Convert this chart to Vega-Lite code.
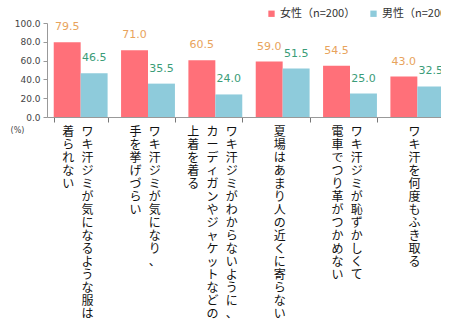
{
  "$schema": "https://vega.github.io/schema/vega-lite/v6.json",
  "width": 394,
  "height": 94,
  "autosize": {"type": "none"},
  "padding": {"left": 47, "top": 23, "right": 0, "bottom": 219},
  "background": "white",
  "config": {
    "view": {"stroke": null},
    "axisY": {
      "grid": false,
      "labelOverlap": false,
      "labelFlush": false,
      "domainColor": "#999",
      "tickColor": "#999",
      "tickSize": 4,
      "labelPadding": 3,
      "labelFont": "DejaVu Sans",
      "labelFontSize": 9,
      "labelColor": "#444",
      "titleAngle": 0,
      "titleX": -30,
      "titleY": 107,
      "titleAlign": "center",
      "titleBaseline": "middle",
      "titleFont": "DejaVu Sans",
      "titleFontSize": 8,
      "titleFontWeight": "normal",
      "titleColor": "#444"
    }
  },
  "datasets": {
    "bars": [
      {"item": "ワキ汗ジミが気になるような服は着られない", "sex": "女性（n=200）", "value": 79.5},
      {"item": "ワキ汗ジミが気になるような服は着られない", "sex": "男性（n=200）", "value": 46.5},
      {"item": "ワキ汗ジミが気になり、手を挙げづらい", "sex": "女性（n=200）", "value": 71.0},
      {"item": "ワキ汗ジミが気になり、手を挙げづらい", "sex": "男性（n=200）", "value": 35.5},
      {"item": "ワキ汗ジミがわからないように、カーディガンやジャケットなどの上着を着る", "sex": "女性（n=200）", "value": 60.5},
      {"item": "ワキ汗ジミがわからないように、カーディガンやジャケットなどの上着を着る", "sex": "男性（n=200）", "value": 24.0},
      {"item": "夏場はあまり人の近くに寄らない", "sex": "女性（n=200）", "value": 59.0},
      {"item": "夏場はあまり人の近くに寄らない", "sex": "男性（n=200）", "value": 51.5},
      {"item": "ワキ汗ジミが恥ずかしくて電車でつり革がつかめない", "sex": "女性（n=200）", "value": 54.5},
      {"item": "ワキ汗ジミが恥ずかしくて電車でつり革がつかめない", "sex": "男性（n=200）", "value": 25.0},
      {"item": "ワキ汗を何度もふき取る", "sex": "女性（n=200）", "value": 43.0},
      {"item": "ワキ汗を何度もふき取る", "sex": "男性（n=200）", "value": 32.5}
    ],
    "labels": [
      {"item": "ワキ汗ジミが気になるような服は着られない", "col": 0.5, "text": "ワキ汗ジミが気になるような服は"},
      {"item": "ワキ汗ジミが気になるような服は着られない", "col": -0.5, "text": "着られない"},
      {"item": "ワキ汗ジミが気になり、手を挙げづらい", "col": 0.5, "text": "ワキ汗ジミが気になり、"},
      {"item": "ワキ汗ジミが気になり、手を挙げづらい", "col": -0.5, "text": "手を挙げづらい"},
      {"item": "ワキ汗ジミがわからないように、カーディガンやジャケットなどの上着を着る", "col": 1, "text": "ワキ汗ジミがわからないように、"},
      {"item": "ワキ汗ジミがわからないように、カーディガンやジャケットなどの上着を着る", "col": 0, "text": "カーディガンやジャケットなどの"},
      {"item": "ワキ汗ジミがわからないように、カーディガンやジャケットなどの上着を着る", "col": -1, "text": "上着を着る"},
      {"item": "夏場はあまり人の近くに寄らない", "col": 0, "text": "夏場はあまり人の近くに寄らない"},
      {"item": "ワキ汗ジミが恥ずかしくて電車でつり革がつかめない", "col": 0.5, "text": "ワキ汗ジミが恥ずかしくて"},
      {"item": "ワキ汗ジミが恥ずかしくて電車でつり革がつかめない", "col": -0.5, "text": "電車でつり革がつかめない"},
      {"item": "ワキ汗を何度もふき取る", "col": 0, "text": "ワキ汗を何度もふき取る"}
    ]
  },
  "encoding": {
    "x": {
      "field": "item",
      "type": "nominal",
      "sort": null,
      "scale": {"range": [0, 404], "paddingInner": 0.2, "paddingOuter": 0.1},
      "axis": {
        "title": null,
        "labels": false,
        "tickBand": "extent",
        "tickSize": 5,
        "tickColor": "#777",
        "domainColor": "#999"
      }
    }
  },
  "layer": [
    {
      "data": {"name": "bars"},
      "mark": {"type": "bar"},
      "encoding": {
        "xOffset": {"field": "sex", "type": "nominal", "sort": null},
        "y": {
          "field": "value",
          "type": "quantitative",
          "scale": {"domain": [0, 100]},
          "axis": {"values": [0, 20, 40, 60, 80, 100], "format": ".1f", "title": "(%)"}
        },
        "color": {
          "field": "sex",
          "type": "nominal",
          "sort": null,
          "scale": {"domain": ["女性（n=200）", "男性（n=200）"], "range": ["#FF7079", "#8ECBDB"]},
          "legend": {
            "title": null,
            "orient": "none",
            "direction": "horizontal",
            "legendX": 219,
            "legendY": -15,
            "symbolType": "square",
            "symbolSize": 40,
            "symbolStrokeWidth": 0,
            "labelFont": "Noto Sans CJK JP",
            "labelFontSize": 11,
            "labelColor": "#333",
            "labelOffset": 3,
            "columnPadding": 12
          }
        }
      }
    },
    {
      "data": {"name": "bars"},
      "transform": [{"filter": "datum.sex == '女性（n=200）'"}],
      "mark": {"type": "text", "baseline": "alphabetic", "dy": -12, "font": "DejaVu Sans", "fontSize": 11, "color": "#E8A35C"},
      "encoding": {
        "xOffset": {"field": "sex", "type": "nominal", "sort": null, "scale": {"domain": ["女性（n=200）", "男性（n=200）"]}},
        "y": {"field": "value", "type": "quantitative", "axis": {"values": [0, 20, 40, 60, 80, 100], "format": ".1f", "title": "(%)"}},
        "text": {"field": "value", "type": "quantitative", "format": ".1f"}
      }
    },
    {
      "data": {"name": "bars"},
      "transform": [{"filter": "datum.sex == '男性（n=200）'"}],
      "mark": {"type": "text", "baseline": "alphabetic", "dy": -12, "font": "DejaVu Sans", "fontSize": 11, "color": "#3A9C78"},
      "encoding": {
        "xOffset": {"field": "sex", "type": "nominal", "sort": null, "scale": {"domain": ["女性（n=200）", "男性（n=200）"]}},
        "y": {"field": "value", "type": "quantitative", "axis": {"values": [0, 20, 40, 60, 80, 100], "format": ".1f", "title": "(%)"}},
        "text": {"field": "value", "type": "quantitative", "format": ".1f"}
      }
    },
    {
      "data": {"name": "labels"},
      "transform": [{"calculate": "split(datum.text, '')", "as": "chars"}],
      "mark": {"type": "text", "baseline": "top", "align": "center", "dy": 10, "font": "Noto Sans CJK JP", "fontSize": 12, "lineHeight": 13, "color": "#111"},
      "encoding": {
        "xOffset": {"field": "col", "type": "quantitative", "scale": {"domain": [-1.25, 1.55], "range": [0, 53.87]}},
        "y": {"datum": 0, "type": "quantitative", "axis": {"values": [0, 20, 40, 60, 80, 100], "format": ".1f", "title": "(%)"}},
        "text": {"field": "chars", "type": "nominal"}
      }
    }
  ],
  "resolve": {"scale": {"xOffset": "independent"}}
}
